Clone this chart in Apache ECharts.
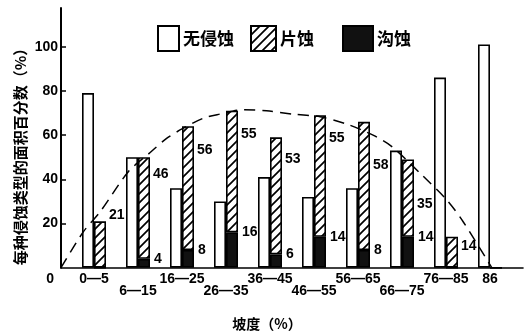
<!DOCTYPE html>
<html><head><meta charset="utf-8">
<script src="https://cdn.jsdelivr.net/npm/echarts@6/dist/echarts.min.js"></script>
<style>html,body{margin:0;padding:0;background:#fff}#c{width:528px;height:333px}</style>
</head><body><div id="c"></div>
<script>
// ---- data ----
const categories = ['0—5','6—15','16—25','26—35','36—45','46—55','56—65','66—75','76—85','86'];
const noErosion    = [79, 50, 36, 30, 41, 32, 36, 53, 86, 101];
const sheetErosion = [21, 46, 56, 55, 53, 55, 58, 35, 14, 0];
const gullyErosion = [0, 4, 8, 16, 6, 14, 8, 14, 0, 0];
const yTickValues  = [20, 40, 60, 80, 100];
// dashed envelope curve: x in category-band units measured from the origin, y in percent
const curveX = [0, 0.51, 0.89, 1.53, 2.02, 2.4, 2.77, 3.23, 3.61, 4.14, 4.67, 5.27, 5.89, 6.49, 6.87, 7.14, 7.52, 8.2, 8.77, 9.14, 9.79];
const curveY = [0, 16.3, 25.3, 43.4, 52, 58.5, 63, 67.6, 69.5, 71.5, 71, 69.5, 68.3, 65, 62, 59.5, 54.8, 42, 30.6, 20.8, 0];

// ---- layout helpers (not data) ----
const sheetLabelDy = [-6, 17, 24, 23, 22, 23, 43, 45, 9, 0];
const labelRow = [0, 1, 0, 1, 0, 1, 0, 1, 0, 0];
const FONT_NUM = 'Liberation Sans';
const FONT_CJK = 'Noto Sans CJK SC';

function hatch() {
  const s = 9, c = document.createElement('canvas');
  c.width = s; c.height = s;
  const g = c.getContext('2d');
  g.fillStyle = '#fff'; g.fillRect(0, 0, s, s);
  g.strokeStyle = '#000'; g.lineWidth = 1.7;
  g.beginPath();
  g.moveTo(-1, s + 1); g.lineTo(s + 1, -1);
  g.moveTo(-2, 2); g.lineTo(2, -2);
  g.moveTo(s - 2, s + 2); g.lineTo(s + 2, s - 2);
  g.stroke();
  return c;
}
const hatchPattern = { image: hatch(), repeat: 'repeat' };

const chart = echarts.init(document.getElementById('c'), null, { renderer: 'canvas' });
const yMax = 117.5;
const gridTop = 8, gridBottom = 65.3;

const option = {
  backgroundColor: '#fff',
  animation: false,
  grid: [
    { left: 72, width: 440, top: gridTop, bottom: gridBottom },
    { left: 61, right: 5, top: gridTop, bottom: gridBottom }
  ],
  legend: [
    { data: ['无侵蚀'], left: 152, top: 20, itemWidth: 21, itemHeight: 25 },
    { data: ['片蚀'], left: 245, top: 20, itemWidth: 25, itemHeight: 25 },
    { data: ['沟蚀'], left: 337, top: 20, itemWidth: 30, itemHeight: 25 }
  ].map(l => Object.assign(l, {
    icon: 'rect', selectedMode: false, itemGap: 0,
    textStyle: { fontFamily: FONT_CJK, fontWeight: 'bold', fontSize: 17, color: '#000', padding: [0, 0, 0, -1] }
  })),
  xAxis: [
    {
      type: 'category', gridIndex: 0, data: categories,
      axisLine: { show: false }, axisTick: { show: false },
      axisLabel: {
        interval: 0, margin: 3, color: '#000',
        fontFamily: FONT_NUM, fontWeight: 'bold', fontSize: 14, lineHeight: 16,
        formatter: (v, i) => labelRow[i] === 0 ? '{a|' + v + '}' : '{b|' + v + '}',
        rich: {
          a: { fontFamily: FONT_NUM, fontWeight: 'bold', fontSize: 14, lineHeight: 16 },
          b: { fontFamily: FONT_NUM, fontWeight: 'bold', fontSize: 14, lineHeight: 16, padding: [25, 0, 0, 0] }
        }
      }
    },
    {
      type: 'value', gridIndex: 1, min: 0, max: 10.5, interval: 10.5,
      splitLine: { show: false }, axisTick: { show: false },
      axisLine: { show: true, lineStyle: { color: '#000', width: 1.6 } },
      axisLabel: {
        margin: 3, align: 'right', padding: [0, 7, 0, 0], color: '#000',
        fontFamily: FONT_NUM, fontWeight: 'bold', fontSize: 14, lineHeight: 16,
        formatter: v => v === 0 ? '0' : ''
      }
    }
  ],
  yAxis: [
    { type: 'value', gridIndex: 0, min: 0, max: yMax, show: false, splitLine: { show: false } },
    {
      type: 'value', gridIndex: 1, min: 0, max: yMax,
      splitLine: { show: false },
      axisLine: { show: true, lineStyle: { color: '#000', width: 2 } },
      axisTick: { show: true, inside: true, length: 5, customValues: yTickValues, lineStyle: { color: '#000', width: 1.5 } },
      axisLabel: { show: true, margin: 3, customValues: yTickValues, color: '#000', fontFamily: FONT_NUM, fontWeight: 'bold', fontSize: 14 }
    }
  ],
  series: [
    {
      name: '无侵蚀', type: 'bar', xAxisIndex: 0, yAxisIndex: 0,
      barWidth: 12, barGap: '0%', data: noErosion,
      itemStyle: { color: '#fff', borderColor: '#000', borderWidth: 1.6 }
    },
    {
      name: '沟蚀', type: 'bar', stack: 'e', xAxisIndex: 0, yAxisIndex: 0,
      barWidth: 12, barGap: '0%',
      data: gullyErosion.map(v => ({ value: v })),
      itemStyle: { color: '#111', borderColor: '#000', borderWidth: 1.6 },
      label: {
        show: true, position: ['100%', 0], align: 'left', verticalAlign: 'middle', offset: [4, 0],
        color: '#000', fontFamily: FONT_NUM, fontWeight: 'bold', fontSize: 14,
        formatter: p => p.value ? String(p.value) : ''
      }
    },
    {
      name: '片蚀', type: 'bar', stack: 'e', xAxisIndex: 0, yAxisIndex: 0,
      barWidth: 12, barGap: '0%',
      data: sheetErosion.map((v, i) => ({ value: v, label: { position: ['100%', sheetLabelDy[i]] } })),
      itemStyle: { color: hatchPattern, borderColor: '#000', borderWidth: 1.6 },
      label: {
        show: true, align: 'left', verticalAlign: 'middle', offset: [3, 0],
        color: '#000', fontFamily: FONT_NUM, fontWeight: 'bold', fontSize: 14,
        formatter: p => p.value ? String(p.value) : ''
      }
    },
    {
      name: 'curve', type: 'line', xAxisIndex: 1, yAxisIndex: 1,
      data: curveX.map((x, i) => [x, curveY[i]]),
      smooth: 0.3, showSymbol: false, symbol: 'none', silent: true, z: 5,
      lineStyle: { color: '#000', width: 1.5, type: [11, 7] }
    }
  ],
  graphic: [
    {
      type: 'text', x: 20, y: 153, rotation: Math.PI / 2,
      style: { text: '每种侵蚀类型的面积百分数（%）', fill: '#000', font: 'bold 15px "Noto Sans CJK SC"', align: 'center', verticalAlign: 'middle' }
    },
    {
      type: 'text', x: 267, y: 324,
      style: { text: '坡度（%）', fill: '#000', font: 'bold 14px "Noto Sans CJK SC"', align: 'center', verticalAlign: 'middle' }
    }
  ]
};
chart.setOption(option);
</script>
</body></html>
